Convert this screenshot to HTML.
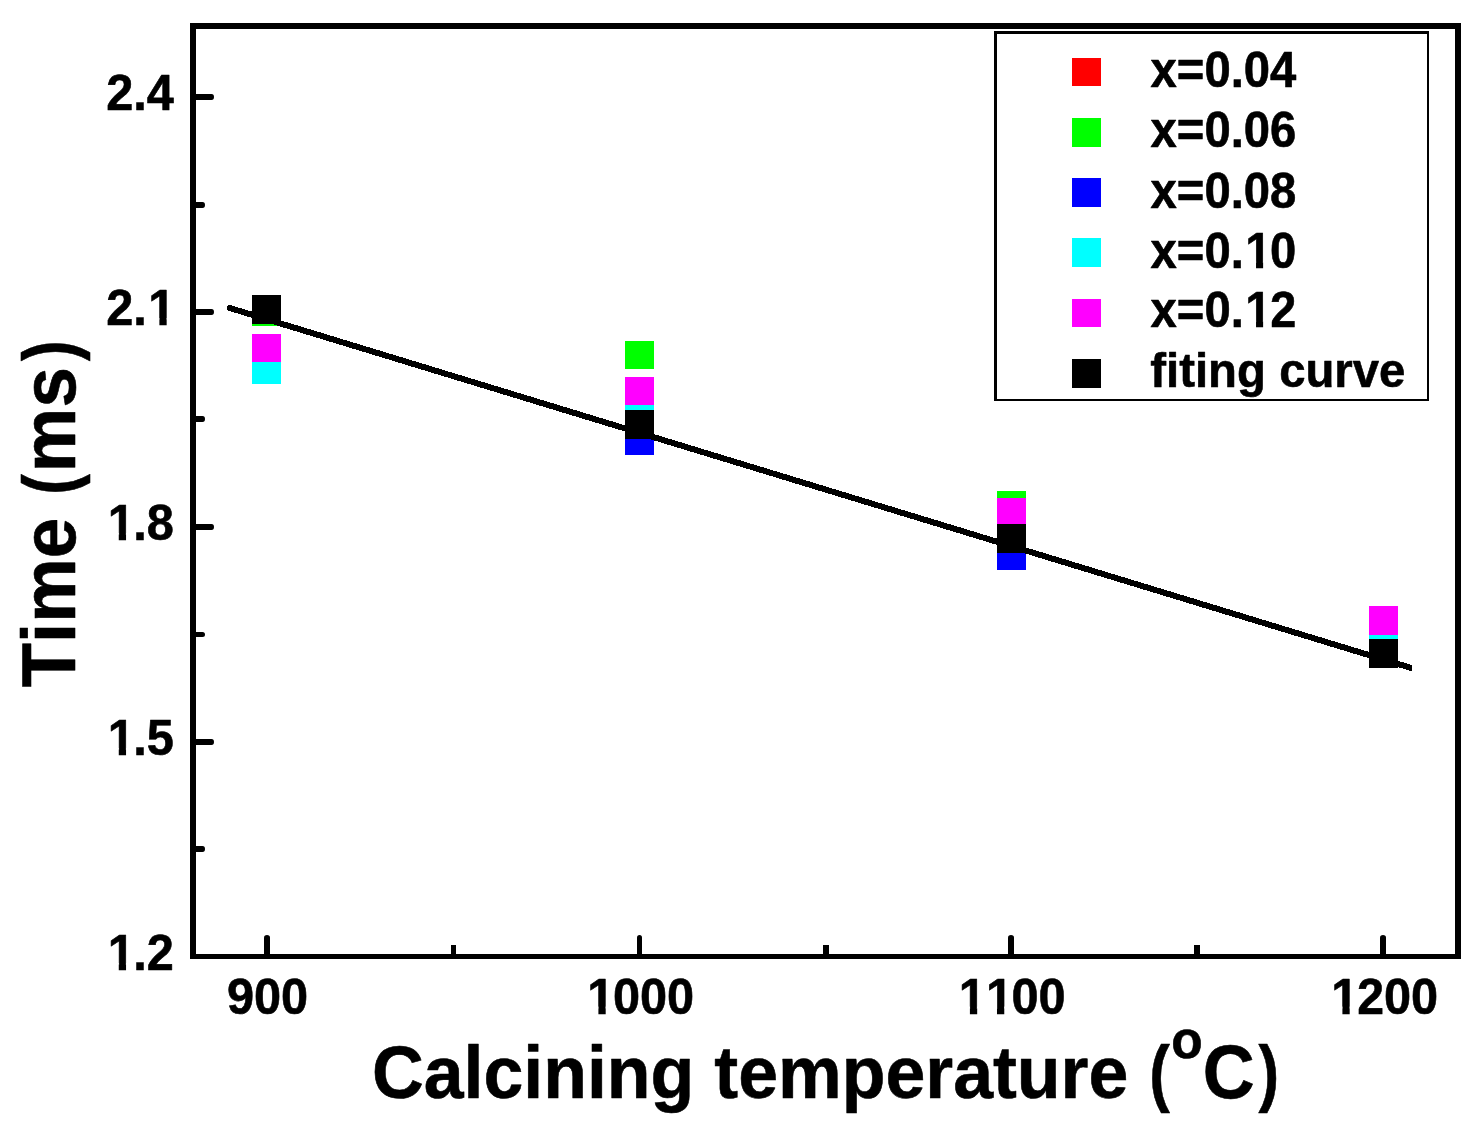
<!DOCTYPE html>
<html lang="en">
<head>
<meta charset="utf-8">
<title>Time (ms) vs Calcining temperature</title>
<style>
html,body{margin:0;padding:0;background:#fff;}
body{width:1481px;height:1129px;overflow:hidden;}
svg{display:block;}
svg text{font-family:"Liberation Sans", sans-serif;font-weight:700;fill:#000;font-kerning:none;}
</style>
</head>
<body>
<svg width="1481" height="1129" viewBox="0 0 1481 1129">
<rect x="0" y="0" width="1481" height="1129" fill="#ffffff"/>
<g shape-rendering="crispEdges">
<rect x="252" y="296" width="29" height="28" fill="#ff0000"/>
<rect x="625" y="411" width="29" height="28" fill="#ff0000"/>
<rect x="997" y="525" width="29" height="28" fill="#ff0000"/>
<rect x="1369" y="640" width="29" height="28" fill="#ff0000"/>
<rect x="252" y="297" width="29" height="29" fill="#00ff00"/>
<rect x="625" y="341" width="29" height="28" fill="#00ff00"/>
<rect x="997" y="491" width="29" height="29" fill="#00ff00"/>
<rect x="625" y="426" width="29" height="29" fill="#0000ff"/>
<rect x="997" y="541" width="29" height="29" fill="#0000ff"/>
<rect x="252" y="355" width="29" height="29" fill="#00ffff"/>
<rect x="625" y="381" width="29" height="29" fill="#00ffff"/>
<rect x="1369" y="610" width="29" height="29" fill="#00ffff"/>
<rect x="252" y="334" width="29" height="28" fill="#ff00ff"/>
<rect x="625" y="377" width="29" height="28" fill="#ff00ff"/>
<rect x="997" y="498" width="29" height="29" fill="#ff00ff"/>
<rect x="1369" y="606" width="29" height="29" fill="#ff00ff"/>
</g>
<polygon points="226.8,305.96 229.3,304.72 1412.0,665.06 1412.0,671.34 226.8,310.24" fill="#000" shape-rendering="crispEdges"/>
<g shape-rendering="crispEdges">
<rect x="252" y="295" width="29" height="29" fill="#000"/>
<rect x="625" y="410" width="29" height="29" fill="#000"/>
<rect x="997" y="524" width="29" height="29" fill="#000"/>
<rect x="1369" y="639" width="29" height="29" fill="#000"/>
</g>
<g shape-rendering="crispEdges">
<rect x="190" y="23" width="6" height="936" fill="#000"/>
<rect x="1455" y="23" width="6" height="936" fill="#000"/>
<rect x="190" y="23" width="1271" height="6" fill="#000"/>
<rect x="190" y="954" width="1271" height="5" fill="#000"/>
</g>
<path d="M195 94H211.5Q214 94 214 97Q214 100 211.5 100H195Z" fill="#000"/>
<path d="M195 309H211.5Q214 309 214 312Q214 315 211.5 315H195Z" fill="#000"/>
<path d="M195 524H211.5Q214 524 214 527Q214 530 211.5 530H195Z" fill="#000"/>
<path d="M195 739H211.5Q214 739 214 742Q214 745 211.5 745H195Z" fill="#000"/>
<path d="M195 202H202.5Q205 202 205 205.0Q205 208 202.5 208H195Z" fill="#000"/>
<path d="M195 416H202.5Q205 416 205 419.0Q205 422 202.5 422H195Z" fill="#000"/>
<path d="M195 632H202.5Q205 632 205 634.5Q205 637 202.5 637H195Z" fill="#000"/>
<path d="M195 846H202.5Q205 846 205 849.0Q205 852 202.5 852H195Z" fill="#000"/>
<path d="M264 955V937.5Q264 935 267.0 935Q270 935 270 937.5V955Z" fill="#000"/>
<path d="M637 955V937.5Q637 935 639.5 935Q642 935 642 937.5V955Z" fill="#000"/>
<path d="M1008 955V937.5Q1008 935 1011.0 935Q1014 935 1014 937.5V955Z" fill="#000"/>
<path d="M1380 955V937.5Q1380 935 1383.0 935Q1386 935 1386 937.5V955Z" fill="#000"/>
<rect x="451" y="945" width="5" height="10" fill="#000"/>
<rect x="823" y="945" width="6" height="10" fill="#000"/>
<rect x="1194" y="945" width="6" height="10" fill="#000"/>
<g transform="translate(106.2 110) scale(0.97 1.0)"><text x="0.00 27.92 41.87" y="0" font-size="50.2" stroke="#000" stroke-width="0.6" stroke-linejoin="round">2.4</text></g>
<g transform="translate(106.2 325) scale(0.97 1.0)"><text x="0.00 27.92 43.41" y="0" font-size="50.2" stroke="#000" stroke-width="0.6" stroke-linejoin="round">2.1</text><rect x="44.82" y="-6.93" width="10.00" height="9.83" fill="#fff"/><rect x="62.33" y="-6.93" width="9.11" height="9.83" fill="#fff"/></g>
<g transform="translate(106.2 540) scale(0.97 1.0)"><text x="1.55 27.92 41.87" y="0" font-size="50.2" stroke="#000" stroke-width="0.6" stroke-linejoin="round">1.8</text><rect x="2.95" y="-6.93" width="10.00" height="9.83" fill="#fff"/><rect x="20.46" y="-6.93" width="9.11" height="9.83" fill="#fff"/></g>
<g transform="translate(106.2 755) scale(0.97 1.0)"><text x="1.55 27.92 41.87" y="0" font-size="50.2" stroke="#000" stroke-width="0.6" stroke-linejoin="round">1.5</text><rect x="2.95" y="-6.93" width="10.00" height="9.83" fill="#fff"/><rect x="20.46" y="-6.93" width="9.11" height="9.83" fill="#fff"/></g>
<g transform="translate(106.2 970) scale(0.97 1.0)"><text x="1.55 27.92 41.87" y="0" font-size="50.2" stroke="#000" stroke-width="0.6" stroke-linejoin="round">1.2</text><rect x="2.95" y="-6.93" width="10.00" height="9.83" fill="#fff"/><rect x="20.46" y="-6.93" width="9.11" height="9.83" fill="#fff"/></g>
<g transform="translate(226.88 1013.5) scale(0.97 1.0)"><text x="0.00 27.92 55.84" y="0" font-size="50.2" stroke="#000" stroke-width="0.6" stroke-linejoin="round">900</text></g>
<g transform="translate(585.84 1013.5) scale(0.97 1.0)"><text x="1.55 27.92 55.84 83.76" y="0" font-size="50.2" stroke="#000" stroke-width="0.6" stroke-linejoin="round">1000</text><rect x="2.95" y="-6.93" width="10.00" height="9.83" fill="#fff"/><rect x="20.46" y="-6.93" width="9.11" height="9.83" fill="#fff"/></g>
<g transform="translate(957.34 1013.5) scale(0.97 1.0)"><text x="1.55 29.47 55.84 83.76" y="0" font-size="50.2" stroke="#000" stroke-width="0.6" stroke-linejoin="round">1100</text><rect x="2.95" y="-6.93" width="10.00" height="9.83" fill="#fff"/><rect x="20.46" y="-6.93" width="9.11" height="9.83" fill="#fff"/><rect x="30.87" y="-6.93" width="10.00" height="9.83" fill="#fff"/><rect x="48.38" y="-6.93" width="9.11" height="9.83" fill="#fff"/></g>
<g transform="translate(1329.84 1013.5) scale(0.97 1.0)"><text x="1.55 27.92 55.84 83.76" y="0" font-size="50.2" stroke="#000" stroke-width="0.6" stroke-linejoin="round">1200</text><rect x="2.95" y="-6.93" width="10.00" height="9.83" fill="#fff"/><rect x="20.46" y="-6.93" width="9.11" height="9.83" fill="#fff"/></g>
<text stroke="#000" stroke-width="0.6" stroke-linejoin="round"><tspan x="371.95" y="1098" font-size="75" textLength="322.35" lengthAdjust="spacingAndGlyphs">Calcining</tspan> <tspan x="714.30" y="1098" font-size="75" textLength="413.98" lengthAdjust="spacingAndGlyphs">temperature</tspan> <tspan x="1149.36" y="1098" font-size="73.5" textLength="20.56" lengthAdjust="spacingAndGlyphs">(</tspan><tspan x="1171.35" y="1057.5" font-size="53" textLength="31.40" lengthAdjust="spacingAndGlyphs">o</tspan><tspan x="1202.69" y="1098" font-size="76.5" textLength="51.93" lengthAdjust="spacingAndGlyphs">C</tspan><tspan x="1258.38" y="1098" font-size="73.5" textLength="20.56" lengthAdjust="spacingAndGlyphs">)</tspan></text>
<text transform="translate(75.3 700) rotate(-90)" stroke="#000" stroke-width="0.6" stroke-linejoin="round"><tspan x="12.68" y="0" font-size="76" textLength="169.40" lengthAdjust="spacingAndGlyphs">Time</tspan> <tspan x="205.31" y="0" font-size="73.5" textLength="20.56" lengthAdjust="spacingAndGlyphs">(</tspan><tspan x="227.85" y="0" font-size="76" textLength="104.90" lengthAdjust="spacingAndGlyphs">ms</tspan><tspan x="338.88" y="0" font-size="73.5" textLength="20.56" lengthAdjust="spacingAndGlyphs">)</tspan></text>
<g shape-rendering="crispEdges">
<rect x="994" y="31" width="435" height="3" fill="#000"/>
<rect x="994" y="31" width="3" height="370" fill="#000"/>
<rect x="994" y="399" width="435" height="2" fill="#000"/>
<rect x="1427" y="31" width="2" height="370" fill="#000"/>
<rect x="1072" y="58" width="29" height="28" fill="#ff0000"/>
<rect x="1072" y="118" width="29" height="29" fill="#00ff00"/>
<rect x="1072" y="178" width="29" height="29" fill="#0000ff"/>
<rect x="1072" y="238" width="29" height="29" fill="#00ffff"/>
<rect x="1072" y="299" width="29" height="28" fill="#ff00ff"/>
<rect x="1072" y="359" width="29" height="29" fill="#000000"/>
</g>
<g transform="translate(1150.6 86.7) scale(0.952 1.0)"><text x="0.00 27.59 56.55 84.14 97.92 125.50" y="0" font-size="49.6" stroke="#000" stroke-width="0.6" stroke-linejoin="round">x=0.04</text></g>
<g transform="translate(1150.6 146.8) scale(0.952 1.0)"><text x="0.00 27.59 56.55 84.14 97.92 125.50" y="0" font-size="49.6" stroke="#000" stroke-width="0.6" stroke-linejoin="round">x=0.06</text></g>
<g transform="translate(1150.6 207.5) scale(0.952 1.0)"><text x="0.00 27.59 56.55 84.14 97.92 125.50" y="0" font-size="49.6" stroke="#000" stroke-width="0.6" stroke-linejoin="round">x=0.08</text></g>
<g transform="translate(1150.6 267.7) scale(0.952 1.0)"><text x="0.00 27.59 56.55 84.14 99.49 125.50" y="0" font-size="49.6" stroke="#000" stroke-width="0.6" stroke-linejoin="round">x=0.10</text><rect x="100.88" y="-6.86" width="9.87" height="9.76" fill="#fff"/><rect x="118.19" y="-6.86" width="9.00" height="9.76" fill="#fff"/></g>
<g transform="translate(1150.6 327.2) scale(0.952 1.0)"><text x="0.00 27.59 56.55 84.14 99.49 125.50" y="0" font-size="49.6" stroke="#000" stroke-width="0.6" stroke-linejoin="round">x=0.12</text><rect x="100.88" y="-6.86" width="9.87" height="9.76" fill="#fff"/><rect x="118.19" y="-6.86" width="9.00" height="9.76" fill="#fff"/></g>
<text stroke="#000" stroke-width="0.6" stroke-linejoin="round"><tspan x="1150.32" y="387.4" font-size="48" textLength="115.52" lengthAdjust="spacingAndGlyphs">fiting</tspan> <tspan x="1279.15" y="387.4" font-size="48" textLength="126.16" lengthAdjust="spacingAndGlyphs">curve</tspan></text>
</svg>
</body>
</html>
